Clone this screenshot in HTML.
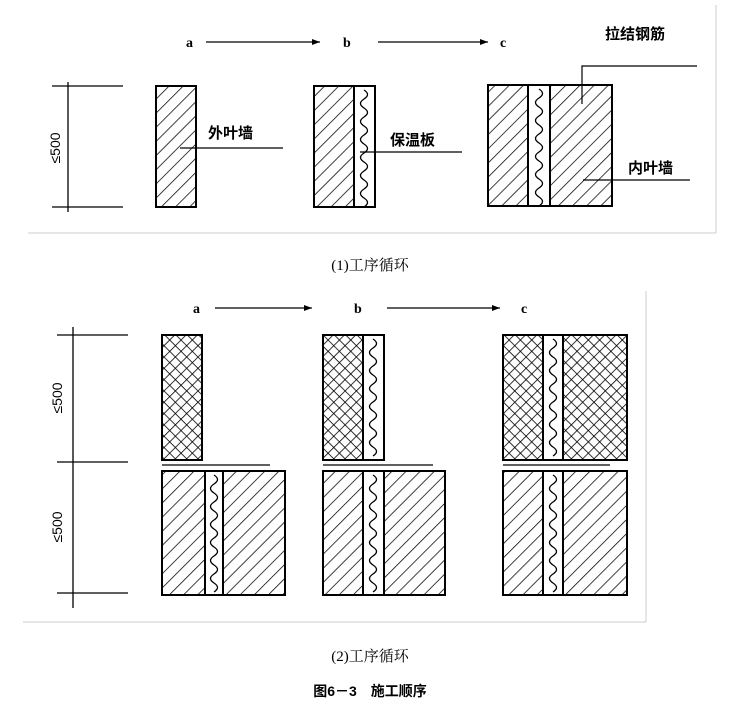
<!DOCTYPE html>
<html><head><meta charset="utf-8"><style>
html,body{margin:0;padding:0;background:#fff;}
svg{display:block;}
text{font-family:"Liberation Sans","Noto Sans CJK SC",sans-serif;fill:#000;}
.s{font-family:"Liberation Serif","Noto Serif CJK SC",serif;}
.b{font-weight:bold;}
</style></head><body>
<svg width="740" height="708" viewBox="0 0 740 708" xmlns="http://www.w3.org/2000/svg">
<defs>
<pattern id="h" width="10" height="10" patternUnits="userSpaceOnUse" patternTransform="rotate(45)">
<line x1="0" y1="0" x2="0" y2="10" stroke="#000" stroke-width="1.5"/>
</pattern>
<pattern id="x" width="8" height="8" patternUnits="userSpaceOnUse" patternTransform="rotate(45)">
<line x1="0" y1="0" x2="0" y2="8" stroke="#000" stroke-width="1.6"/>
<line x1="0" y1="0" x2="8" y2="0" stroke="#000" stroke-width="1.6"/>
</pattern>
<marker id="ar" markerWidth="8" markerHeight="6" refX="8" refY="3" orient="auto" markerUnits="userSpaceOnUse">
<path d="M0,0 L8,3 L0,6 z" fill="#000"/>
</marker>
</defs>
<g fill="none" stroke="#ccc" stroke-width="1">
<line x1="28" y1="233" x2="716" y2="233"/><line x1="716" y1="5" x2="716" y2="233"/>
<line x1="23" y1="622" x2="646" y2="622"/><line x1="646" y1="291" x2="646" y2="622"/>
</g>
<g stroke="#000" stroke-width="1.3" fill="none">
<line x1="68" y1="82" x2="68" y2="212"/>
<line x1="52" y1="86" x2="123" y2="86"/><line x1="52" y1="207" x2="123" y2="207"/>
<line x1="206" y1="42" x2="320" y2="42" marker-end="url(#ar)"/>
<line x1="378" y1="42" x2="488" y2="42" marker-end="url(#ar)"/>
</g>
<text class="s" x="186" y="47" font-size="14" font-weight="bold">a</text>
<text class="s" x="343" y="47" font-size="14" font-weight="bold">b</text>
<text class="s" x="500" y="47" font-size="14" font-weight="bold">c</text>
<text x="0" y="0" font-size="14" transform="translate(60,148) rotate(-90)" text-anchor="middle">≤500</text>
<rect x="156" y="86" width="40" height="121" fill="url(#h)" stroke="#000" stroke-width="2"/>
<rect x="314" y="86" width="61" height="121" fill="#fff" stroke="#000" stroke-width="2"/>
<rect x="314" y="86" width="40" height="121" fill="url(#h)" stroke="#000" stroke-width="2"/>
<rect x="488" y="85" width="124" height="121" fill="url(#h)" stroke="#000" stroke-width="2"/>
<rect x="528" y="85" width="22" height="121" fill="#fff" stroke="#000" stroke-width="2"/>
<g stroke="#000" stroke-width="1.2" fill="none">
<line x1="180" y1="148" x2="283" y2="148"/>
<line x1="360" y1="152" x2="462" y2="152"/>
<line x1="583" y1="180" x2="690" y2="180"/>
<polyline points="582,104 582,66 697,66"/>
</g>
<text class="b" x="208" y="138" font-size="15">外叶墙</text>
<text class="b" x="390" y="145" font-size="15">保温板</text>
<text class="b" x="628" y="173" font-size="15">内叶墙</text>
<text class="b" x="605" y="39" font-size="15">拉结钢筋</text>
<text class="s" x="370" y="270" font-size="15" text-anchor="middle">(1)工序循环</text>
<g stroke="#000" stroke-width="1.3" fill="none">
<line x1="73" y1="327" x2="73" y2="608"/>
<line x1="57" y1="335" x2="128" y2="335"/><line x1="57" y1="462" x2="128" y2="462"/><line x1="57" y1="593" x2="128" y2="593"/>
<line x1="215" y1="308" x2="312" y2="308" marker-end="url(#ar)"/>
<line x1="387" y1="308" x2="500" y2="308" marker-end="url(#ar)"/>
<line x1="162" y1="465" x2="270" y2="465"/>
<line x1="323" y1="465" x2="433" y2="465"/>
<line x1="503" y1="465" x2="610" y2="465"/>
</g>
<text class="s" x="193" y="313" font-size="14" font-weight="bold">a</text>
<text class="s" x="354" y="313" font-size="14" font-weight="bold">b</text>
<text class="s" x="521" y="313" font-size="14" font-weight="bold">c</text>
<text font-size="14" transform="translate(62,398) rotate(-90)" text-anchor="middle">≤500</text>
<text font-size="14" transform="translate(62,527) rotate(-90)" text-anchor="middle">≤500</text>
<rect x="162" y="335" width="40" height="125" fill="url(#x)" stroke="#000" stroke-width="2"/>
<rect x="323" y="335" width="61" height="125" fill="#fff" stroke="#000" stroke-width="2"/>
<rect x="323" y="335" width="40" height="125" fill="url(#x)" stroke="#000" stroke-width="2"/>
<rect x="503" y="335" width="124" height="125" fill="url(#x)" stroke="#000" stroke-width="2"/>
<rect x="543" y="335" width="20" height="125" fill="#fff" stroke="#000" stroke-width="2"/>
<rect x="162" y="471" width="123" height="124" fill="url(#h)" stroke="#000" stroke-width="2"/>
<rect x="205" y="471" width="18" height="124" fill="#fff" stroke="#000" stroke-width="2"/>
<rect x="323" y="471" width="122" height="124" fill="url(#h)" stroke="#000" stroke-width="2"/>
<rect x="363" y="471" width="21" height="124" fill="#fff" stroke="#000" stroke-width="2"/>
<rect x="503" y="471" width="124" height="124" fill="url(#h)" stroke="#000" stroke-width="2"/>
<rect x="543" y="471" width="20" height="124" fill="#fff" stroke="#000" stroke-width="2"/>
<g stroke="#000" stroke-width="1.3" fill="none">
<path d="M364,90 q7,4.5 0,9 q-7,4.5 0,9 q7,4.5 0,9 q-7,4.5 0,9 q7,4.5 0,9 q-7,4.5 0,9 q7,4.5 0,9 q-7,4.5 0,9 q7,4.5 0,9 q-7,4.5 0,9 q7,4.5 0,9 q-7,4.5 0,9 q7,4.5 0,9"/>
<path d="M539,89 q7,4.5 0,9 q-7,4.5 0,9 q7,4.5 0,9 q-7,4.5 0,9 q7,4.5 0,9 q-7,4.5 0,9 q7,4.5 0,9 q-7,4.5 0,9 q7,4.5 0,9 q-7,4.5 0,9 q7,4.5 0,9 q-7,4.5 0,9 q7,4.5 0,9"/>
<path d="M373,339 q7,4.5 0,9 q-7,4.5 0,9 q7,4.5 0,9 q-7,4.5 0,9 q7,4.5 0,9 q-7,4.5 0,9 q7,4.5 0,9 q-7,4.5 0,9 q7,4.5 0,9 q-7,4.5 0,9 q7,4.5 0,9 q-7,4.5 0,9 q7,4.5 0,9"/>
<path d="M553,339 q7,4.5 0,9 q-7,4.5 0,9 q7,4.5 0,9 q-7,4.5 0,9 q7,4.5 0,9 q-7,4.5 0,9 q7,4.5 0,9 q-7,4.5 0,9 q7,4.5 0,9 q-7,4.5 0,9 q7,4.5 0,9 q-7,4.5 0,9 q7,4.5 0,9"/>
<path d="M214,475 q7,4.5 0,9 q-7,4.5 0,9 q7,4.5 0,9 q-7,4.5 0,9 q7,4.5 0,9 q-7,4.5 0,9 q7,4.5 0,9 q-7,4.5 0,9 q7,4.5 0,9 q-7,4.5 0,9 q7,4.5 0,9 q-7,4.5 0,9 q7,4.5 0,9"/>
<path d="M373,475 q7,4.5 0,9 q-7,4.5 0,9 q7,4.5 0,9 q-7,4.5 0,9 q7,4.5 0,9 q-7,4.5 0,9 q7,4.5 0,9 q-7,4.5 0,9 q7,4.5 0,9 q-7,4.5 0,9 q7,4.5 0,9 q-7,4.5 0,9 q7,4.5 0,9"/>
<path d="M553,475 q7,4.5 0,9 q-7,4.5 0,9 q7,4.5 0,9 q-7,4.5 0,9 q7,4.5 0,9 q-7,4.5 0,9 q7,4.5 0,9 q-7,4.5 0,9 q7,4.5 0,9 q-7,4.5 0,9 q7,4.5 0,9 q-7,4.5 0,9 q7,4.5 0,9"/>
</g>
<text class="s" x="370" y="661" font-size="15" text-anchor="middle">(2)工序循环</text>
<text class="b" x="370" y="696" font-size="14" text-anchor="middle">图6－3　施工顺序</text>
</svg>
</body></html>
